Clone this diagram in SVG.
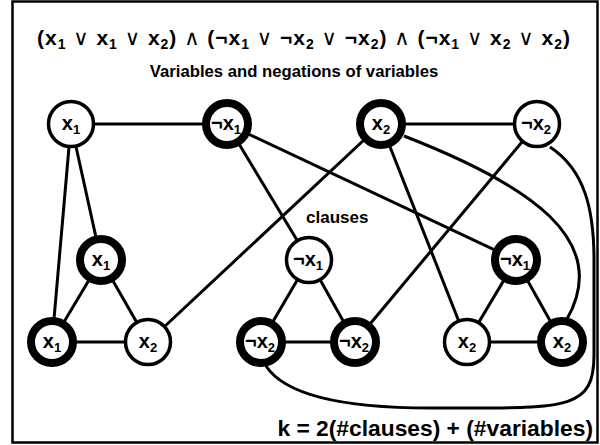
<svg xmlns="http://www.w3.org/2000/svg" width="600" height="445" viewBox="0 0 600 445">
<style>
text{font-family:"Liberation Sans",Arial,"DejaVu Sans",sans-serif;font-weight:bold;fill:#000}
.lbl{font-size:20px;text-anchor:middle}
.s{font-size:13px}
.ts{font-size:14px}
.op{font-weight:normal}
.n circle{fill:#fff;stroke:#000}
.thin circle{stroke-width:3.5}
.thick circle{stroke-width:8}
#connectors line,#connectors path{stroke:#000;stroke-width:3;fill:none}
</style>
<rect x="12.5" y="1.5" width="585" height="441" fill="#fff" stroke="#000" stroke-width="2.5"/>
<text x="37" y="45" font-size="21" textLength="533" lengthAdjust="spacing">(x<tspan class="ts" dy="4">1</tspan><tspan dy="-4"> </tspan><tspan class="op">∨</tspan> x<tspan class="ts" dy="4">1</tspan><tspan dy="-4"> </tspan><tspan class="op">∨</tspan> x<tspan class="ts" dy="4">2</tspan><tspan dy="-4">) </tspan><tspan class="op">∧</tspan> (¬x<tspan class="ts" dy="4">1</tspan><tspan dy="-4"> </tspan><tspan class="op">∨</tspan> ¬x<tspan class="ts" dy="4">2</tspan><tspan dy="-4"> </tspan><tspan class="op">∨</tspan> ¬x<tspan class="ts" dy="4">2</tspan><tspan dy="-4">) </tspan><tspan class="op">∧</tspan> (¬x<tspan class="ts" dy="4">1</tspan><tspan dy="-4"> </tspan><tspan class="op">∨</tspan> x<tspan class="ts" dy="4">2</tspan><tspan dy="-4"> </tspan><tspan class="op">∨</tspan> x<tspan class="ts" dy="4">2</tspan><tspan dy="-4">)</tspan></text>
<text x="294" y="77" font-size="16.7" text-anchor="middle">Variables and negations of variables</text>
<text x="306" y="223" font-size="17">clauses</text>
<text x="593" y="436" font-size="22.8" text-anchor="end">k = 2(#clauses) + (#variables)</text>
<g id="connectors">
<line x1="71" y1="124" x2="227" y2="124"/>
<line x1="381" y1="124" x2="537" y2="124"/>
<line x1="71" y1="124" x2="101" y2="260"/>
<line x1="71" y1="124" x2="52" y2="342"/>
<line x1="227" y1="124" x2="309" y2="260"/>
<line x1="227" y1="124" x2="516" y2="260"/>
<line x1="381" y1="124" x2="148" y2="342"/>
<line x1="381" y1="124" x2="467" y2="342"/>
<line x1="537" y1="124" x2="355" y2="342"/>
<path d="M404 136 C530 185 612 240 567 319"/>
<path d="M550 147 C585 170 594 210 594 260 L594 355 C594 412 565 408 430 408 C340 408 285 395 266 366"/>
<line x1="101" y1="260" x2="52" y2="342"/>
<line x1="101" y1="260" x2="148" y2="342"/>
<line x1="52" y1="342" x2="148" y2="342"/>
<line x1="309" y1="260" x2="261" y2="342"/>
<line x1="309" y1="260" x2="355" y2="342"/>
<line x1="261" y1="342" x2="355" y2="342"/>
<line x1="516" y1="260" x2="467" y2="342"/>
<line x1="516" y1="260" x2="562" y2="342"/>
<line x1="467" y1="342" x2="562" y2="342"/>
</g>
<g id="t1" class="n thin"><circle cx="71" cy="124" r="22.5"/><text class="lbl" x="71" y="130">x<tspan class="s" dy="4">1</tspan></text></g>
<g id="t2" class="n thick"><circle cx="227" cy="124" r="21"/><text class="lbl" x="226" y="130">¬x<tspan class="s" dy="4">1</tspan></text></g>
<g id="t3" class="n thick"><circle cx="381" cy="124" r="21"/><text class="lbl" x="381" y="130">x<tspan class="s" dy="4">2</tspan></text></g>
<g id="t4" class="n thin"><circle cx="537" cy="124" r="22.5"/><text class="lbl" x="536" y="130">¬x<tspan class="s" dy="4">2</tspan></text></g>
<g id="c1a" class="n thick"><circle cx="101" cy="260" r="21"/><text class="lbl" x="101" y="266">x<tspan class="s" dy="4">1</tspan></text></g>
<g id="c1b" class="n thick"><circle cx="52" cy="342" r="21"/><text class="lbl" x="52" y="348">x<tspan class="s" dy="4">1</tspan></text></g>
<g id="c1c" class="n thin"><circle cx="148" cy="342" r="22.5"/><text class="lbl" x="148" y="348">x<tspan class="s" dy="4">2</tspan></text></g>
<g id="c2a" class="n thin"><circle cx="309" cy="260" r="22.5"/><text class="lbl" x="308" y="266">¬x<tspan class="s" dy="4">1</tspan></text></g>
<g id="c2b" class="n thick"><circle cx="261" cy="342" r="21"/><text class="lbl" x="260" y="348">¬x<tspan class="s" dy="4">2</tspan></text></g>
<g id="c2c" class="n thick"><circle cx="355" cy="342" r="21"/><text class="lbl" x="354" y="348">¬x<tspan class="s" dy="4">2</tspan></text></g>
<g id="c3a" class="n thick"><circle cx="516" cy="260" r="21"/><text class="lbl" x="515" y="266">¬x<tspan class="s" dy="4">1</tspan></text></g>
<g id="c3b" class="n thin"><circle cx="467" cy="342" r="22.5"/><text class="lbl" x="467" y="348">x<tspan class="s" dy="4">2</tspan></text></g>
<g id="c3c" class="n thick"><circle cx="562" cy="342" r="21"/><text class="lbl" x="562" y="348">x<tspan class="s" dy="4">2</tspan></text></g>
</svg>
